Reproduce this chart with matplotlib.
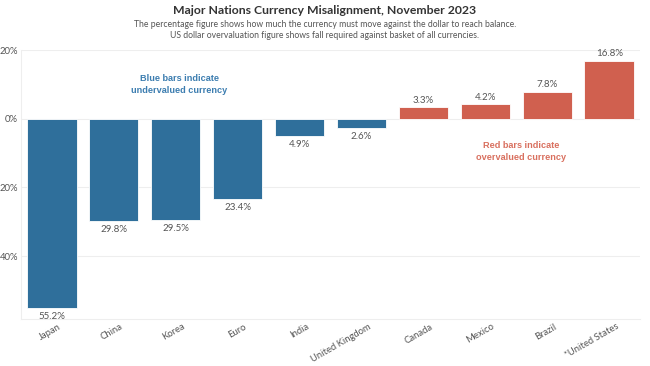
import matplotlib.pyplot as plt

# data
countries = ['Japan', 'China', 'Korea', 'Euro', 'India', 'United Kingdom',
             'Canada', 'Mexico', 'Brazil', '*United States']
misalignment = [-55.2, -29.8, -29.5, -23.4, -4.9, -2.6, 3.3, 4.2, 7.8, 16.8]
yticks = [20, 0, -20, -40]

blue = '#2f6f9b'
red = '#d0604f'
gray = '#555555'

plt.rcParams['font.family'] = ['Lato', 'DejaVu Sans']

fig = plt.figure(figsize=(6.5, 3.66), dpi=100)
ax = fig.add_axes([0.032, 0.128, 0.953, 0.735])

colors = [blue if v < 0 else red for v in misalignment]
x = range(len(countries))
ax.bar(x, misalignment, width=0.8, color=colors, edgecolor='white', linewidth=0.6, zorder=2)

for i, v in enumerate(misalignment):
    if v < 0:
        ax.annotate(f'{abs(v):.1f}%', (i, v), xytext=(0, -3), textcoords='offset points',
                    ha='center', va='top', fontsize=7, color=gray)
    else:
        ax.annotate(f'{v:.1f}%', (i, v), xytext=(0, 2), textcoords='offset points',
                    ha='center', va='bottom', fontsize=7, color=gray)

ax.set_xlim(-0.5, len(countries) - 0.5)
ax.set_ylim(-58.4, 20)
ax.set_yticks(yticks)
ax.set_yticklabels([f'{abs(t)}%' for t in yticks])
ax.set_xticks([i + 0.1 for i in x])
ax.set_xticklabels(countries, rotation=30, ha='right', rotation_mode='anchor')
ax.tick_params(axis='both', length=0, labelsize=6.8, colors=gray)
ax.tick_params(axis='y', pad=2)
ax.tick_params(axis='x', pad=2)
ax.grid(axis='y', color='#eeeeee', linewidth=0.8, zorder=0)
for s in ['top', 'right']:
    ax.spines[s].set_visible(False)
for s in ['left', 'bottom']:
    ax.spines[s].set_color('#eeeeee')

ax.text(2.06, 10, 'Blue bars indicate\nundervalued currency', ha='center', va='center',
        fontsize=6.6, fontweight='bold', color='#3c7db0', family=['Liberation Sans', 'DejaVu Sans'],
        linespacing=1.35)
ax.text(7.58, -9.6, 'Red bars indicate\novervalued currency', ha='center', va='center',
        fontsize=6.6, fontweight='bold', color='#d9705f', family=['Liberation Sans', 'DejaVu Sans'],
        linespacing=1.35)

fig.text(0.5, 0.972, 'Major Nations Currency Misalignment, November 2023', ha='center',
         va='center', fontsize=8.8, fontweight='bold', color='#333333')
fig.text(0.5, 0.918, 'The percentage figure shows how much the currency must move against the dollar to reach balance.\n'
         'US dollar overvaluation figure shows fall required against basket of all currencies.',
         ha='center', va='center', fontsize=6.2, color=gray, linespacing=1.35)

fig.savefig('out.png', dpi=100)
